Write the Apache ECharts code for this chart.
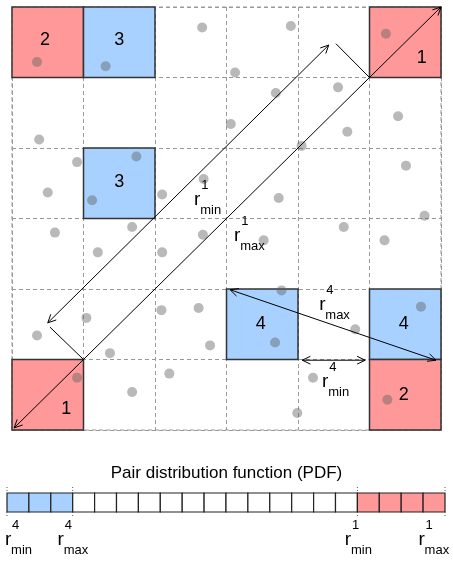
<!DOCTYPE html>
<html><head><meta charset="utf-8">
<script src="https://cdn.jsdelivr.net/npm/echarts@6/dist/echarts.min.js"></script>
<style>html,body{margin:0;padding:0;background:#fff}#c{width:453px;height:563px}</style>
</head><body><div id="c"></div>
<script>
// ---- data (grid units: column, row from top) ----
const RED = '#ff9999', BLUE = '#a8d1ff';
const cells = [ // col, row, kind, label
  [0,0,'r','2'],[1,0,'b','3'],[5,0,'r','1'],[1,2,'b','3'],
  [3,4,'b','4'],[5,4,'b','4'],[0,5,'r','1'],[5,5,'r','2']
];
const cellLabelPos = [ // x, y, text
  [0.46,0.47,'2'],[1.5,0.47,'3'],[5.73,0.72,'1'],[1.5,2.48,'3'],
  [3.48,4.5,'4'],[5.48,4.5,'4'],[0.76,5.70,'1'],[5.48,5.50,'2']
];
const dots = [
  [0.35,0.78],[1.31,0.84],[2.66,0.29],[0.38,1.88],[0.91,2.20],[1.74,2.12],[0.50,2.63],[1.12,2.74],
  [2.10,2.66],[2.68,2.44],[3.90,0.27],[5.23,0.38],[3.12,0.93],[3.69,1.22],[3.06,1.66],[4.56,1.14],
  [4.69,1.77],[4.05,1.97],[5.40,1.55],[5.51,2.25],[3.73,2.71],[5.77,2.96],[0.60,3.20],[1.68,3.12],
  [1.20,3.48],[2.10,3.48],[2.67,3.23],[1.04,4.41],[0.35,4.66],[2.09,4.30],[2.61,4.27],[2.77,4.80],
  [1.37,4.91],[0.91,5.26],[2.20,5.20],[1.68,5.46],[3.52,3.31],[4.64,3.12],[5.21,3.31],[3.77,4.02],
  [3.68,4.76],[4.80,4.57],[5.72,4.25],[4.21,5.26],[3.99,5.76],[5.25,5.57]
];
const arrows = [ // x1,y1,x2,y2, arrowAtStart, arrowAtEnd
  [0.03,5.97,6.0,0.0,1,1],
  [0.50,4.48,4.43,0.54,1,1],
  [0.53,4.54,1.0,5.0,0,0],
  [4.53,0.52,5.0,1.0,0,0],
  [3.05,4.01,5.93,5.01,1,1],
  [4.06,5.01,4.94,5.01,1,1]
];
const rLabels = [ // x, y, sup, sub
  [2.59,2.74,'1','min'],[3.15,3.25,'1','max'],[4.34,4.23,'4','max'],[4.38,5.32,'4','min']
];
const pdfKinds = ['b','b','b','w','w','w','w','w','w','w','w','w','w','w','w','w','r','r','r','r'];
const pdfTicks = [0,3,16,20];
const pdfLabels = [[0.05,'4','min'],[2.45,'4','max'],[15.57,'1','min'],[18.93,'1','max']];
const FONT = '"Liberation Sans", Arial, sans-serif';

function arrowHead(p, q, len) { // head at q pointing from p
  const a = Math.atan2(q[1]-p[1], q[0]-p[0]), s = 0.45;
  const l1 = [q[0]-len*Math.cos(a-s), q[1]-len*Math.sin(a-s)];
  const l2 = [q[0]-len*Math.cos(a+s), q[1]-len*Math.sin(a+s)];
  return {type:'polyline', shape:{points:[l1,q,l2]}, style:{stroke:'#000',lineWidth:1,fill:null}};
}
function rText(x, y, sup, sub) {
  return {type:'group', children:[
    {type:'text', style:{x:x, y:y, text:'r', font:'19px '+FONT, fill:'#000', textAlign:'center', textVerticalAlign:'middle'}},
    {type:'text', style:{x:x+4, y:y-15, text:sup, font:'13px '+FONT, fill:'#000', textAlign:'left', textVerticalAlign:'middle'}},
    {type:'text', style:{x:x+3, y:y+10, text:sub, font:'13px '+FONT, fill:'#000', textAlign:'left', textVerticalAlign:'middle'}}
  ]};
}

const chart = echarts.init(document.getElementById('c'), null, {renderer:'canvas'});
const dashAxis = {lineStyle:{color:'#999', type:[4,3], width:1}};
chart.setOption({
  animation:false,
  title:{text:'Pair distribution function (PDF)', left:'center', top:460,
    textStyle:{fontFamily:FONT, fontWeight:'normal', fontSize:17, color:'#000'}},
  grid:[
    {left:12, top:7, width:429, height:423},
    {left:7, top:493, width:438, height:19}
  ],
  xAxis:[
    {gridIndex:0, type:'value', min:0, max:6, interval:1, axisLine:{show:false}, axisTick:{show:false}, axisLabel:{show:false}, splitLine:{show:true, ...dashAxis}},
    {gridIndex:1, type:'value', min:0, max:20, show:false}
  ],
  yAxis:[
    {gridIndex:0, type:'value', min:0, max:6, interval:1, inverse:true, axisLine:{show:false}, axisTick:{show:false}, axisLabel:{show:false}, splitLine:{show:true, ...dashAxis}},
    {gridIndex:1, type:'value', min:0, max:1, show:false}
  ],
  series:[
    {type:'custom', xAxisIndex:0, yAxisIndex:0, z:1, data:[[0,0]],
      renderItem:(p, api)=>{
        const a = api.coord([0,0]), b = api.coord([6,6]);
        return {type:'rect', shape:{x:a[0], y:a[1], width:b[0]-a[0], height:b[1]-a[1]},
          style:{fill:null, stroke:'#999', lineWidth:1, lineDash:[4,3]}};
      }},
    {type:'custom', xAxisIndex:0, yAxisIndex:0, z:2, data:cells,
      renderItem:(p, api)=>{
        const c = api.value(0), r = api.value(1), k = cells[p.dataIndex][2];
        const a = api.coord([c,r]), b = api.coord([c+1,r+1]);
        return {type:'rect', shape:{x:a[0], y:a[1], width:b[0]-a[0], height:b[1]-a[1]},
          style:{fill:k==='r'?RED:BLUE, stroke:'#333', lineWidth:1.5}};
      }},
    {type:'scatter', xAxisIndex:0, yAxisIndex:0, z:3, data:dots, symbolSize:10,
      itemStyle:{color:'rgba(95,95,95,0.55)'}},
    {type:'custom', xAxisIndex:0, yAxisIndex:0, z:4, data:arrows,
      renderItem:(p, api)=>{
        const d = arrows[p.dataIndex];
        const s = api.coord([d[0],d[1]]), e = api.coord([d[2],d[3]]);
        const ch = [{type:'line', shape:{x1:s[0],y1:s[1],x2:e[0],y2:e[1]}, style:{stroke:'#000', lineWidth:1}}];
        if (d[4]) ch.push(arrowHead(e, s, 9));
        if (d[5]) ch.push(arrowHead(s, e, 9));
        return {type:'group', children:ch};
      }},
    {type:'custom', xAxisIndex:0, yAxisIndex:0, z:5, data:cellLabelPos,
      renderItem:(p, api)=>{
        const pt = api.coord([api.value(0), api.value(1)]);
        return {type:'text', style:{x:pt[0], y:pt[1], text:cellLabelPos[p.dataIndex][2], font:'18px '+FONT, fill:'#000', textAlign:'center', textVerticalAlign:'middle'}};
      }},
    {type:'custom', xAxisIndex:0, yAxisIndex:0, z:5, data:rLabels,
      renderItem:(p, api)=>{
        const d = rLabels[p.dataIndex];
        const pt = api.coord([d[0], d[1]]);
        return rText(pt[0], pt[1], d[2], d[3]);
      }},
    {type:'custom', xAxisIndex:1, yAxisIndex:1, z:2, data:pdfKinds.map((k,i)=>[i]),
      renderItem:(p, api)=>{
        const i = api.value(0), k = pdfKinds[p.dataIndex];
        const a = api.coord([i,1]), b = api.coord([i+1,0]);
        return {type:'rect', shape:{x:a[0], y:a[1], width:b[0]-a[0], height:b[1]-a[1]},
          style:{fill:k==='r'?RED:(k==='b'?BLUE:'#fff'), stroke:'#222', lineWidth:1.2}};
      }},
    {type:'custom', xAxisIndex:1, yAxisIndex:1, z:3, data:pdfTicks.map(v=>[v]),
      renderItem:(p, api)=>{
        const a = api.coord([api.value(0),1]), b = api.coord([api.value(0),0]);
        return {type:'group', children:[
          {type:'line', shape:{x1:a[0],y1:a[1]-6,x2:a[0],y2:a[1]}, style:{stroke:'#555', lineWidth:1, lineDash:[1,2]}},
          {type:'line', shape:{x1:b[0],y1:b[1],x2:b[0],y2:b[1]+6}, style:{stroke:'#555', lineWidth:1, lineDash:[1,2]}}
        ]};
      }},
    {type:'custom', xAxisIndex:1, yAxisIndex:1, z:3, data:pdfLabels.map(d=>[d[0]]),
      renderItem:(p, api)=>{
        const d = pdfLabels[p.dataIndex];
        const pt = api.coord([d[0], 0]);
        return rText(pt[0], pt[1]+28, d[1], d[2]);
      }}
  ]
});
</script></body></html>
